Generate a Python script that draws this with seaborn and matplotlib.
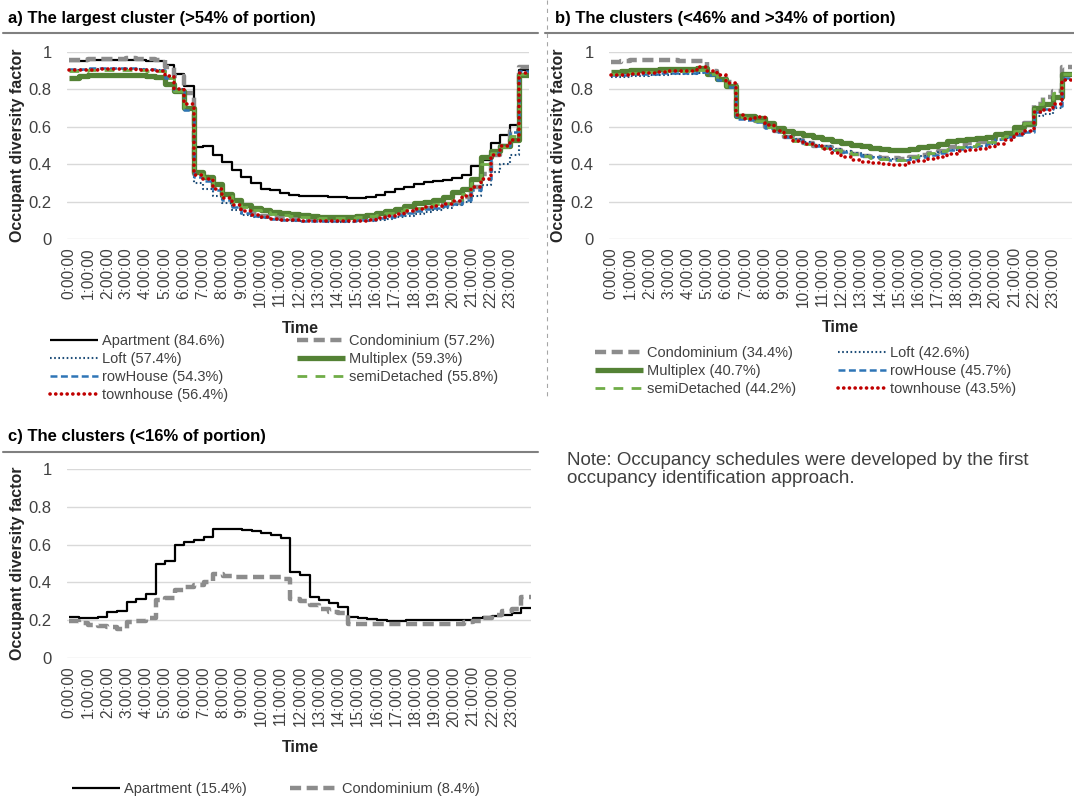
import numpy as np
import matplotlib
matplotlib.use("Agg")
import matplotlib.pyplot as plt
import seaborn as sns
from matplotlib.lines import Line2D

# ---------------- data (half-hour levels, 0:00 ... 23:30) ----------------
hours = np.arange(0, 24, 0.5)
tick_labels = [f"{h}:00:00" for h in range(24)]

# panel a) the largest cluster
a_apartment = [0.95, 0.95, 0.955, 0.955, 0.955, 0.955, 0.955, 0.955, 0.95, 0.95,
               0.93, 0.88, 0.82,
               0.49, 0.50, 0.45, 0.41, 0.37, 0.33, 0.30, 0.27, 0.26, 0.245, 0.235,
               0.23, 0.23, 0.228, 0.225, 0.222, 0.22, 0.22, 0.225,
               0.235, 0.25, 0.265, 0.28, 0.295, 0.305, 0.31, 0.315,
               0.325, 0.34, 0.39, 0.42, 0.515, 0.555, 0.61, 0.905]
a_condominium = [0.955, 0.955, 0.965, 0.96, 0.965, 0.965, 0.97, 0.965, 0.96, 0.955,
                 0.92, 0.87, 0.78,
                 0.35, 0.33, 0.28, 0.23, 0.19, 0.16, 0.14, 0.125, 0.115, 0.11, 0.105,
                 0.105, 0.105, 0.103, 0.103, 0.103, 0.105, 0.108, 0.112,
                 0.118, 0.127, 0.137, 0.147, 0.157, 0.167, 0.176, 0.185,
                 0.195, 0.225, 0.28, 0.35, 0.45, 0.50, 0.58, 0.92]
a_loft = [0.905, 0.905, 0.91, 0.91, 0.91, 0.91, 0.91, 0.91, 0.905, 0.905,
          0.87, 0.80, 0.70,
          0.30, 0.27, 0.23, 0.19, 0.155, 0.13, 0.12, 0.11, 0.105, 0.10, 0.098,
          0.096, 0.095, 0.094, 0.093, 0.093, 0.093, 0.094, 0.096,
          0.10, 0.107, 0.115, 0.125, 0.135, 0.145, 0.155, 0.165,
          0.18, 0.20, 0.23, 0.29, 0.36, 0.40, 0.45, 0.89]
a_multiplex = [0.86, 0.87, 0.875, 0.875, 0.875, 0.875, 0.875, 0.875, 0.872, 0.868,
               0.83, 0.79, 0.70,
               0.36, 0.33, 0.295, 0.24, 0.21, 0.18, 0.165, 0.155, 0.145, 0.14, 0.135,
               0.128, 0.125, 0.12, 0.118, 0.116, 0.118, 0.123, 0.13,
               0.14, 0.15, 0.162, 0.175, 0.19, 0.20, 0.21, 0.225,
               0.25, 0.268, 0.32, 0.44, 0.47, 0.50, 0.53, 0.875]
a_rowhouse = [0.91, 0.91, 0.912, 0.912, 0.912, 0.912, 0.912, 0.91, 0.908, 0.905,
              0.86, 0.79, 0.69,
              0.33, 0.31, 0.26, 0.21, 0.17, 0.14, 0.125, 0.115, 0.108, 0.103, 0.10,
              0.098, 0.097, 0.096, 0.096, 0.096, 0.097, 0.099, 0.103,
              0.11, 0.118, 0.128, 0.138, 0.148, 0.158, 0.167, 0.175,
              0.185, 0.21, 0.26, 0.32, 0.46, 0.50, 0.57, 0.90]
a_semidetached = [0.90, 0.90, 0.905, 0.905, 0.905, 0.905, 0.905, 0.905, 0.90, 0.90,
                  0.86, 0.79, 0.70,
                  0.35, 0.33, 0.285, 0.23, 0.20, 0.17, 0.155, 0.145, 0.135, 0.13, 0.125,
                  0.12, 0.115, 0.112, 0.11, 0.11, 0.112, 0.115, 0.122,
                  0.13, 0.138, 0.148, 0.158, 0.168, 0.18, 0.188, 0.195,
                  0.21, 0.24, 0.30, 0.40, 0.46, 0.49, 0.55, 0.88]
a_townhouse = [0.905, 0.905, 0.905, 0.908, 0.908, 0.908, 0.908, 0.905, 0.905, 0.90,
               0.87, 0.80, 0.72,
               0.34, 0.32, 0.27, 0.22, 0.18, 0.15, 0.13, 0.115, 0.108, 0.103, 0.10,
               0.098, 0.097, 0.096, 0.095, 0.095, 0.095, 0.096, 0.10,
               0.11, 0.122, 0.135, 0.15, 0.16, 0.17, 0.178, 0.188,
               0.205, 0.23, 0.28, 0.32, 0.45, 0.50, 0.53, 0.89]

# panel b) the clusters (<46% and >34%)
b_condominium = [0.949, 0.953, 0.956, 0.956, 0.956, 0.956, 0.955, 0.953, 0.953, 0.953,
                 0.90, 0.87, 0.84,
                 0.66, 0.65, 0.63, 0.60, 0.575, 0.545, 0.53, 0.515, 0.50, 0.49, 0.475,
                 0.465, 0.455, 0.445, 0.44, 0.435, 0.435, 0.43, 0.44,
                 0.45, 0.46, 0.47, 0.49, 0.505, 0.515, 0.52, 0.53,
                 0.55, 0.555, 0.58, 0.62, 0.72, 0.76, 0.79, 0.92]
b_loft = [0.864, 0.865, 0.87, 0.873, 0.875, 0.878, 0.88, 0.882, 0.885, 0.89,
          0.875, 0.85, 0.82,
          0.645, 0.64, 0.63, 0.60, 0.575, 0.55, 0.535, 0.52, 0.505, 0.495, 0.48,
          0.47, 0.46, 0.45, 0.44, 0.435, 0.43, 0.425, 0.435,
          0.445, 0.455, 0.465, 0.475, 0.485, 0.49, 0.50, 0.51,
          0.53, 0.54, 0.56, 0.575, 0.66, 0.67, 0.70, 0.85]
b_multiplex = [0.895, 0.90, 0.905, 0.905, 0.905, 0.91, 0.91, 0.91, 0.91, 0.915,
               0.88, 0.855, 0.82,
               0.66, 0.66, 0.645, 0.62, 0.595, 0.58, 0.565, 0.555, 0.545, 0.535, 0.525,
               0.515, 0.505, 0.495, 0.487, 0.48, 0.475, 0.475, 0.48,
               0.49, 0.50, 0.51, 0.522, 0.53, 0.535, 0.54, 0.545,
               0.56, 0.565, 0.60, 0.615, 0.70, 0.72, 0.76, 0.88]
b_rowhouse = [0.875, 0.877, 0.88, 0.882, 0.885, 0.886, 0.888, 0.89, 0.89, 0.895,
              0.875, 0.85, 0.815,
              0.64, 0.635, 0.625, 0.595, 0.57, 0.545, 0.53, 0.515, 0.50, 0.49, 0.475,
              0.465, 0.455, 0.445, 0.438, 0.43, 0.425, 0.42, 0.43,
              0.44, 0.45, 0.462, 0.475, 0.483, 0.49, 0.50, 0.51,
              0.535, 0.545, 0.555, 0.57, 0.68, 0.695, 0.71, 0.86]
b_semidetached = [0.885, 0.89, 0.89, 0.892, 0.895, 0.897, 0.90, 0.90, 0.90, 0.905,
                  0.88, 0.855, 0.82,
                  0.65, 0.645, 0.63, 0.60, 0.57, 0.54, 0.525, 0.51, 0.50, 0.487, 0.475,
                  0.465, 0.455, 0.445, 0.435, 0.43, 0.425, 0.425, 0.44,
                  0.45, 0.46, 0.47, 0.48, 0.49, 0.50, 0.51, 0.52,
                  0.54, 0.55, 0.58, 0.62, 0.72, 0.75, 0.78, 0.88]
b_townhouse = [0.876, 0.878, 0.885, 0.887, 0.89, 0.894, 0.896, 0.898, 0.90, 0.92,
               0.897, 0.878, 0.835,
               0.665, 0.64, 0.65, 0.61, 0.575, 0.548, 0.525, 0.51, 0.495, 0.48, 0.46,
               0.44, 0.425, 0.412, 0.405, 0.40, 0.398, 0.398, 0.41,
               0.418, 0.43, 0.44, 0.455, 0.47, 0.477, 0.483, 0.49,
               0.51, 0.528, 0.56, 0.575, 0.68, 0.69, 0.72, 0.85]

# panel c) the clusters (<16%)
c_apartment = [0.215, 0.21, 0.21, 0.215, 0.242, 0.25, 0.295, 0.31, 0.34, 0.497,
               0.515, 0.60, 0.615, 0.625, 0.64, 0.68, 0.683, 0.683, 0.675, 0.67,
               0.66, 0.65, 0.635, 0.455, 0.44, 0.325, 0.305, 0.29, 0.27, 0.215,
               0.213, 0.205, 0.20, 0.198, 0.198, 0.199, 0.20, 0.20, 0.20, 0.20,
               0.20, 0.203, 0.21, 0.215, 0.22, 0.23, 0.24, 0.265]
c_condominium = [0.198, 0.185, 0.175, 0.17, 0.162, 0.155, 0.19, 0.195, 0.21, 0.305,
                 0.32, 0.36, 0.375, 0.385, 0.40, 0.445, 0.435, 0.43, 0.428, 0.427,
                 0.427, 0.427, 0.42, 0.31, 0.30, 0.28, 0.26, 0.245, 0.24, 0.18,
                 0.178, 0.178, 0.18, 0.18, 0.18, 0.18, 0.18, 0.18, 0.18, 0.18,
                 0.18, 0.19, 0.198, 0.21, 0.23, 0.25, 0.26, 0.325]

a_labels = {"Apartment": "Apartment (84.6%)", "Condominium": "Condominium (57.2%)",
            "Loft": "Loft (57.4%)", "Multiplex": "Multiplex (59.3%)",
            "rowHouse": "rowHouse (54.3%)", "semiDetached": "semiDetached (55.8%)",
            "townhouse": "townhouse (56.4%)"}
b_labels = {"Condominium": "Condominium (34.4%)", "Loft": "Loft (42.6%)",
            "Multiplex": "Multiplex (40.7%)", "rowHouse": "rowHouse (45.7%)",
            "semiDetached": "semiDetached (44.2%)", "townhouse": "townhouse (43.5%)"}
c_labels = {"Apartment": "Apartment (15.4%)", "Condominium": "Condominium (8.4%)"}

# ---------------- styling ----------------
sns.set_style("white")
plt.rcParams['font.family'] = ['Liberation Sans', 'DejaVu Sans']
plt.rcParams['lines.scale_dashes'] = False

STY = {
    "Apartment":    dict(color="#000000", lw=1.6, ls="-", cap="butt"),
    "Condominium":  dict(color="#8C8C8C", lw=3.2, ls=(0, (8, 4)), cap="butt"),
    "Loft":         dict(color="#1F4E79", lw=1.5, ls=(0, (1.2, 1.8)), cap="butt"),
    "Multiplex":    dict(color="#548235", lw=3.8, ls="-", cap="butt"),
    "rowHouse":     dict(color="#2E75B6", lw=1.8, ls=(0, (5, 2.5)), cap="butt"),
    "semiDetached": dict(color="#70AD47", lw=2.0, ls=(0, (7, 6)), cap="butt"),
    "townhouse":    dict(color="#C00000", lw=2.6, ls=(0, (0.1, 4.0)), cap="round"),
}
TXT = "#404040"
W, H = 1074, 802

fig = plt.figure(figsize=(W / 100, H / 100), dpi=100)


def axes_px(l, t, r, b):
    return fig.add_axes([l / W, 1 - b / H, (r - l) / W, (b - t) / H])


def style_line(line, name):
    s = STY[name]
    line.set_color(s["color"])
    line.set_linewidth(s["lw"])
    line.set_linestyle(s["ls"])
    line.set_dash_capstyle(s["cap"])
    line.set_solid_capstyle("butt")


def draw(ax, series):
    for name, vals in series:
        x = np.append(hours, 24.0)
        y = np.append(vals, vals[-1])
        sns.lineplot(x=x, y=y, ax=ax, estimator=None, sort=False,
                     drawstyle="steps-post")
        style_line(ax.lines[-1], name)
    ax.set_xlim(-0.1, 24)
    ax.set_ylim(0, 1)
    ax.set_yticks([0, 0.2, 0.4, 0.6, 0.8, 1.0])
    ax.set_yticklabels(["0", "0.2", "0.4", "0.6", "0.8", "1"], fontsize=12, color=TXT)
    ax.set_xticks(range(24))
    ax.set_xticklabels(tick_labels, rotation=90, fontsize=11.2, color=TXT)
    ax.tick_params(axis="y", length=0, pad=11)
    ax.tick_params(axis="x", length=0, pad=6)
    ax.grid(axis="y", color="#D9D9D9", lw=1)
    ax.grid(axis="x", visible=False)
    ax.set_axisbelow(True)
    for sp in ax.spines.values():
        sp.set_visible(False)
    ax.set_xlabel("")
    ax.set_ylabel("")


def handle(name):
    s = STY[name]
    h = Line2D([], [], color=s["color"], lw=s["lw"], ls=s["ls"])
    h.set_dash_capstyle(s["cap"])
    h.set_solid_capstyle("butt")
    return h


def legend_col(names, labels, x, ytop):
    lg = fig.legend([handle(n) for n in names], [labels[n] for n in names],
                    loc="upper left", bbox_to_anchor=(x / W, 1 - ytop / H),
                    frameon=False, fontsize=10.5, handlelength=3.3,
                    handletextpad=0.25, borderpad=0, borderaxespad=0,
                    labelspacing=0.28)
    for t in lg.get_texts():
        t.set_color(TXT)
    return lg


# panel a
ax_a = axes_px(67, 52, 529, 239)
draw(ax_a, [("Apartment", a_apartment), ("Condominium", a_condominium),
            ("Loft", a_loft), ("Multiplex", a_multiplex), ("rowHouse", a_rowhouse),
            ("semiDetached", a_semidetached), ("townhouse", a_townhouse)])
# panel b
ax_b = axes_px(609, 52, 1072, 239)
draw(ax_b, [("Condominium", b_condominium), ("Loft", b_loft),
            ("Multiplex", b_multiplex), ("rowHouse", b_rowhouse),
            ("semiDetached", b_semidetached), ("townhouse", b_townhouse)])
# panel c
ax_c = axes_px(67, 469, 531, 658)
draw(ax_c, [("Apartment", c_apartment), ("Condominium", c_condominium)])

# titles, rules, axis titles
for x, y, s in [(8, 18, "a) The largest cluster (>54% of portion)"),
                (555, 18, "b) The clusters (<46% and >34% of portion)"),
                (8, 437, "c) The clusters (<16% of portion)")]:
    fig.text(x / W, 1 - y / H, s, fontsize=12, fontweight="bold", va="center",
             ha="left", color="#000000")
for x0, x1, y in [(3, 538, 33), (545, 1074, 33), (3, 538, 452)]:
    fig.add_artist(Line2D([x0 / W, x1 / W], [1 - y / H] * 2, color="#808080", lw=1.5))
fig.add_artist(Line2D([547 / W] * 2, [1.0, 1 - 398 / H], color="#A6A6A6", lw=0.8,
                      ls=(0, (3, 3))))

for x, y in [(18, 145), (558, 145), (18, 563)]:
    fig.text(x / W, 1 - y / H, "Occupant diversity factor", rotation=90,
             fontsize=11.5, fontweight="bold", ha="center", va="center")
for x, y in [(300, 328), (840, 327), (300, 747)]:
    fig.text(x / W, 1 - y / H, "Time", fontsize=11.5, fontweight="bold",
             ha="center", va="center")

# legends
legend_col(["Apartment", "Loft", "rowHouse", "townhouse"], a_labels, 50, 334)
legend_col(["Condominium", "Multiplex", "semiDetached"], a_labels, 297, 334)
legend_col(["Condominium", "Multiplex", "semiDetached"], b_labels, 595, 346)
legend_col(["Loft", "rowHouse", "townhouse"], b_labels, 838, 346)
legend_col(["Apartment"], c_labels, 72, 782)
legend_col(["Condominium"], c_labels, 290, 782)

fig.text(567 / W, 1 - 452 / H,
         "Note: Occupancy schedules were developed by the first\n"
         "occupancy identification approach.",
         fontsize=13.5, color=TXT, ha="left", va="top", linespacing=1.05)

fig.savefig("out.png", dpi=100)
